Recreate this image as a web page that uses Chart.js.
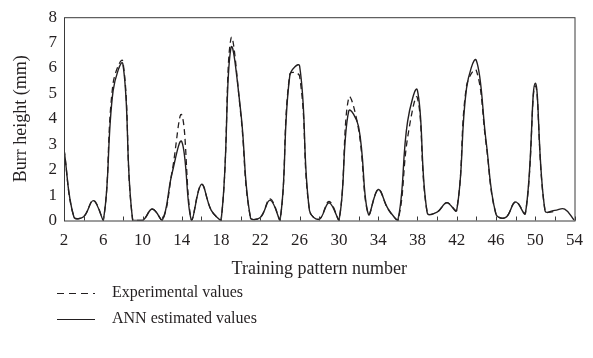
<!DOCTYPE html>
<html>
<head>
<meta charset="utf-8">
<script src="https://cdn.jsdelivr.net/npm/chart.js@4.4.1/dist/chart.umd.min.js"></script>
<style>
  html, body { margin: 0; padding: 0; background: #fff; }
  #wrap { position: relative; width: 593px; height: 358px; overflow: hidden; }
  #chart { position: absolute; left: 0; top: 0; }
  .key { position: absolute; left: 0; height: 22px; white-space: nowrap;
         font-family: 'Liberation Serif', 'DejaVu Serif', serif; font-size: 16px; color: #231f20; }
  .key svg { position: absolute; left: 56px; top: 10px; }
  .key span { position: absolute; left: 112px; top: 1px; }
</style>
</head>
<body>
<div id="wrap">
  <canvas id="chart" width="593" height="358"></canvas>
  <div class="key" style="top:282px;">
    <svg width="40" height="3"><line x1="1" y1="1.5" x2="39" y2="1.5" stroke="#231f20" stroke-width="1.2" stroke-dasharray="7 5"/></svg>
    <span>Experimental values</span>
  </div>
  <div class="key" style="top:308px;">
    <svg width="40" height="3"><line x1="1" y1="1.5" x2="39" y2="1.5" stroke="#231f20" stroke-width="1.2"/></svg>
    <span>ANN estimated values</span>
  </div>
</div>
<script>
// Training pattern numbers on the horizontal axis
const patterns = [2, 3, 4, 5, 6, 7, 8, 9, 10, 11, 12, 13, 14, 15, 16, 17, 18, 19, 20, 21,
  22, 23, 24, 25, 26, 27, 28, 29, 30, 31, 32, 33, 34, 35, 36, 37, 38, 39, 40, 41,
  42, 43, 44, 45, 46, 47, 48, 49, 50, 51, 52, 53, 54];

// Measured burr height (mm), patterns 2..52
const experimental = [2.8, 0.15, 0.15, 0.8, 0, 5.4, 6.25, 0, 0, 0.45, 0, 1.9, 4.15, 0, 1.42, 0.4, 0, 7.15, 4.2, 0.1,
  0.12, 0.85, 0, 5.75, 5.68, 0.4, 0.05, 0.75, 0, 4.82, 3.6, 0.25, 1.22, 0.45, 0, 3.26, 4.82, 0.3, 0.33, 0.7,
  0.42, 5.3, 5.9, 3.0, 0.25, 0.12, 0.75, 0.3, 5.3, 0.38, 0.35];

// Network-estimated burr height (mm), patterns 2..54
const annEstimated = [2.8, 0.15, 0.15, 0.78, 0, 5.1, 6.15, 0, 0, 0.45, 0, 1.85, 3.1, 0, 1.42, 0.4, 0, 6.78, 4.3, 0.1,
  0.12, 0.8, 0, 5.7, 6.08, 0.4, 0.05, 0.7, 0, 4.3, 3.7, 0.25, 1.22, 0.47, 0, 3.9, 5.12, 0.3, 0.33, 0.7,
  0.4, 5.2, 6.3, 3.1, 0.25, 0.12, 0.73, 0.28, 5.4, 0.38, 0.4, 0.45, 0];

// Labelled ticks on the two axes
const xTickLabels = [2, 6, 10, 14, 18, 22, 26, 30, 34, 38, 42, 46, 50, 54];
const yTickLabels = [0, 1, 2, 3, 4, 5, 6, 7, 8];

const ink = '#231f20';
const serif = "'Liberation Serif', 'DejaVu Serif', serif";

const toPoints = (vals) => vals.map((v, i) => ({ x: patterns[i], y: v }));

// Box round the plot area plus short inward tick marks along the bottom
const framePlugin = {
  id: 'frame',
  afterDatasetsDraw(chart) {
    const { ctx, chartArea: a, scales: { x } } = chart;
    ctx.save();
    ctx.strokeStyle = '#3a3a3a';
    ctx.lineWidth = 1;
    ctx.strokeRect(a.left + 0.5, a.top + 0.5, a.right - a.left, a.bottom - a.top);
    ctx.beginPath();
    x.ticks.forEach(t => {
      const px = Math.round(x.getPixelForValue(t.value)) + 0.5;
      ctx.moveTo(px, a.bottom);
      ctx.lineTo(px, a.bottom - 4);
    });
    ctx.stroke();
    ctx.restore();
  }
};

new Chart(document.getElementById('chart'), {
  type: 'line',
  data: {
    datasets: [
      {
        label: 'Experimental values',
        data: toPoints(experimental),
        borderColor: ink,
        borderWidth: 1.3,
        borderDash: [6, 4],
        pointRadius: 0,
        tension: 0.4,
        fill: false
      },
      {
        label: 'ANN estimated values',
        data: toPoints(annEstimated),
        borderColor: ink,
        borderWidth: 1.4,
        pointRadius: 0,
        tension: 0.4,
        fill: false
      }
    ]
  },
  options: {
    responsive: false,
    animation: false,
    layout: { padding: { left: 0, top: 15, right: 9, bottom: 75.5 } },
    plugins: { legend: { display: false }, tooltip: { enabled: false } },
    scales: {
      x: {
        type: 'linear',
        min: 2,
        max: 54,
        afterFit(scale) { scale.height = 62; },
        grid: { display: false, drawTicks: false },
        border: { display: false },
        ticks: {
          stepSize: 2,
          autoSkip: false,
          maxRotation: 0,
          padding: 10,
          color: ink,
          font: { family: serif, size: 17 },
          callback: (v) => xTickLabels.includes(v) ? String(v) : ''
        },
        title: {
          display: true,
          text: 'Training pattern number',
          color: ink,
          font: { family: serif, size: 18 },
          padding: { top: 0, bottom: 2 }
        }
      },
      y: {
        min: 0,
        max: 8,
        afterFit(scale) { scale.width = 64; },
        grid: { display: false, drawTicks: false },
        border: { display: false },
        ticks: {
          stepSize: 1,
          padding: 7,
          color: ink,
          font: { family: serif, size: 17 },
          callback: (v) => yTickLabels.includes(v) ? String(v) : ''
        },
        title: {
          display: true,
          text: 'Burr height (mm)',
          color: ink,
          font: { family: serif, size: 18 },
          padding: { top: 10, bottom: 0 }
        }
      }
    }
  },
  plugins: [framePlugin]
});
</script>
</body>
</html>
